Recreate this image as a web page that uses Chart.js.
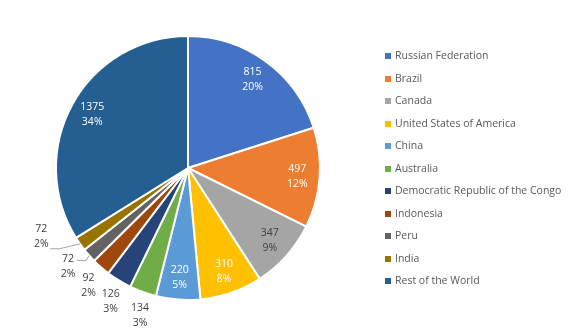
<!DOCTYPE html>
<html>
<head>
<meta charset="utf-8">
<script src="https://cdn.jsdelivr.net/npm/chart.js@4.4.1/dist/chart.umd.min.js"></script>
<style>
  body { margin: 0; background: #fff; }
  #wrap { position: relative; width: 576px; height: 336px; }
  #legend { position: absolute; left: 385px; top: 44px; font-family: "Open Sans", sans-serif; font-size: 10.5px; color: #595959; }
  #legend div { height: 22.5px; line-height: 22.5px; white-space: nowrap; }
  #legend span { display: inline-block; width: 6px; height: 6px; margin-right: 4px; vertical-align: 0px; }
</style>
</head>
<body>
<div id="wrap">
  <canvas id="myChart" width="576" height="336"></canvas>
  <div id="legend"></div>
</div>
<script>
// countries and their values
const countries = ["Russian Federation", "Brazil", "Canada", "United States of America", "China", "Australia",
  "Democratic Republic of the Congo", "Indonesia", "Peru", "India", "Rest of the World"];
const values = [815, 497, 347, 310, 220, 134, 126, 92, 72, 72, 1375];
const sliceColors = ["#4472C4", "#ED7D31", "#A5A5A5", "#FFC000", "#5B9BD5", "#70AD47",
  "#264478", "#9E480E", "#636363", "#997300", "#255E91"];
// label text colour per slice (gray slice gets dark text)
const labelColors = ["#fff", "#fff", "#404040", "#fff", "#fff", "#fff", "#fff", "#fff", "#fff", "#fff", "#fff"];
// small slices get their label outside, nudged round a bit (degrees)
const labelNudge = [0, 0, 0, 0, 0, -2, -1.5, -1, 2.2, 10, 0];

let total = values.reduce((a, b) => a + b, 0);

// legend
let legend = document.getElementById("legend");
for (let i = 0; i < countries.length; i++) {
    let row = document.createElement("div");
    row.innerHTML = '<span style="background:' + sliceColors[i] + '"></span>' + countries[i];
    legend.appendChild(row);
}

const pieLabels = {
    id: "pieLabels",
    afterDatasetsDraw(chart) {
        let ctx = chart.ctx;
        let arcs = chart.getDatasetMeta(0).data;
        ctx.save();
        ctx.font = "10.5px 'Open Sans', sans-serif";
        ctx.textAlign = "center";
        ctx.textBaseline = "middle";
        arcs.forEach((arc, i) => {
            let p = arc.getProps(["x", "y", "startAngle", "endAngle", "outerRadius"], true);
            let mid = (p.startAngle + p.endAngle) / 2;
            let share = values[i] / total;
            let pct = Math.round(share * 100) + "%";
            let lx, ly;
            if (share >= 0.05) {
                let r = p.outerRadius * 0.83;
                lx = p.x + Math.cos(mid) * r;
                ly = p.y + Math.sin(mid) * r;
                ctx.fillStyle = labelColors[i];
            } else {
                let a = mid + labelNudge[i] * Math.PI / 180;
                let r = p.outerRadius + 21 + Math.abs(labelNudge[i]) * 0.9;
                lx = p.x + Math.cos(a) * r;
                ly = p.y + Math.sin(a) * r;
                ctx.fillStyle = "#404040";
                if (labelNudge[i] > 1) {
                    // leader line back to the slice edge
                    let ex = p.x + Math.cos(mid) * p.outerRadius;
                    let ey = p.y + Math.sin(mid) * p.outerRadius;
                    let sy = Math.min(Math.max(ey + 5, ly - 15), ly + 12);
                    let sx = lx + 9;
                    ctx.strokeStyle = "#A6A6A6";
                    ctx.lineWidth = 1;
                    ctx.beginPath();
                    ctx.moveTo(sx, sy);
                    ctx.lineTo(sx + 9, sy);
                    ctx.lineTo(ex, ey);
                    ctx.stroke();
                }
            }
            ctx.fillText(values[i], lx, ly - 7.5);
            ctx.fillText(pct, lx, ly + 7.5);
        });
        ctx.restore();
    }
};

new Chart("myChart", {
    type: "pie",
    data: {
        labels: countries,
        datasets: [{
            data: values,
            backgroundColor: sliceColors,
            borderColor: "#fff",
            borderWidth: 2
        }]
    },
    options: {
        responsive: false,
        animation: false,
        devicePixelRatio: 1,
        layout: { padding: { left: 55, right: 255, top: 35, bottom: 35 } },
        plugins: {
            legend: { display: false },
            tooltip: { enabled: false }
        }
    },
    plugins: [pieLabels]
});
</script>
</body>
</html>
